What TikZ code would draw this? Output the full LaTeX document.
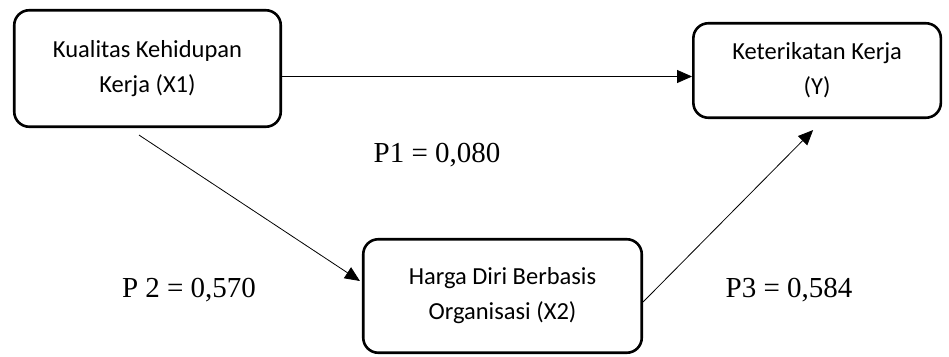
\documentclass[tikz,border=0pt]{standalone}
\usepackage{fontspec}
\setmainfont{Liberation Serif}
\newfontfamily\boxfont{Carlito}
\usetikzlibrary{arrows.meta,positioning}

\begin{document}
\begin{tikzpicture}[x=1pt,y=-1pt,->,>={Triangle[length=15pt,width=13pt]},
                    line width=0.8pt,every text node part/.style={align=center}]
  \tikzstyle{var}=[draw=black,rounded corners=15pt,line width=2.6pt,
                   font=\boxfont\fontsize{24.5}{35}\selectfont]
  \tikzstyle{coef}=[anchor=base,font=\fontsize{29}{34}\selectfont]
  \useasboundingbox (0,0) rectangle (949,356);

  \node[var,minimum width=266.5pt,minimum height=116.5pt] (X1) at (147.5,68.5)
       {Kualitas Kehidupan\\Kerja (X1)};
  \node[var,minimum width=247.5pt,minimum height=94.5pt,right=410pt of X1,yshift=-2pt] (Y)
       {Keterikatan Kerja\\(Y)};
  \node[var,minimum width=278.5pt,minimum height=113.5pt] (X2) at (502.5,296)
       {Harga Diri Berbasis\\Organisasi (X2)};

  \node[coef] (P1) at (437,162) {P1 = 0,080};
  \node[coef] (P2) at (189,297) {P 2 = 0,570};
  \node[coef] (P3) at (789,297) {P3 = 0,584};

  \draw ([yshift=-8pt]X1.east) -- ([yshift=-6pt]Y.west);
  \draw ([xshift=-8.5pt,yshift=-7pt]X1.south) -- ([xshift=-2pt,yshift=15pt]X2.west);
  \draw ([yshift=-6pt]X2.east) -- ([xshift=-4pt,yshift=-11pt]Y.south);
\end{tikzpicture}
\end{document}
